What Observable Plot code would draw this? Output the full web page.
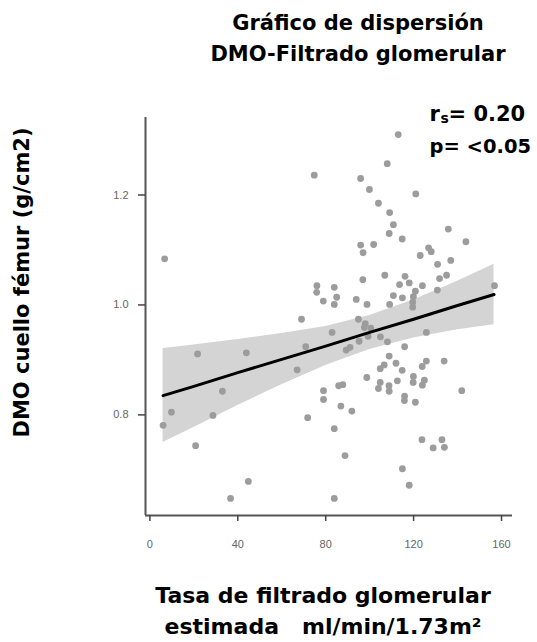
<!DOCTYPE html>
<html>
<head>
<meta charset="utf-8">
<script src="https://cdn.jsdelivr.net/npm/d3@7"></script>
<script src="https://cdn.jsdelivr.net/npm/@observablehq/plot@0.6"></script>
<style>
  html, body { margin: 0; padding: 0; background: #fff; }
  #chart svg { display: block; }
</style>
</head>
<body>
<div id="chart"></div>
<script>
// Text
const titleLines = ["Gráfico de dispersión", "DMO-Filtrado glomerular"];
const xLabelLines = ["Tasa de filtrado glomerular", "estimada\u00a0\u00a0 ml/min/1.73m²"];
const yLabel = "DMO cuello fémur (g/cm2)";
const rsValue = "0.20";
const pValue = "<0.05";

// Axes
const xTicks = [0, 40, 80, 120, 160];
const yTicks = [0.8, 1.0, 1.2];
const xDomain = [-2, 165];
const yDomain = [0.617, 1.341];

// Estimated glomerular filtration rate (ml/min/1.73m²)
const egfr = [
  74.8, 6.7, 76.0, 83.9, 75.9, 78.9, 85.0, 83.9, 69.0, 113.0,
  108.0, 95.9, 99.9, 121.0, 104.0, 109.1, 110.8, 135.8, 108.9, 114.8,
  143.8, 95.9, 101.8, 97.0, 126.8, 128.0, 123.0, 136.9, 130.9, 96.9,
  106.9, 116.1, 113.6, 118.0, 124.0, 135.0, 131.8, 130.8, 120.8, 110.8,
  114.9, 119.9, 119.6, 119.6, 93.9, 98.8, 109.1, 94.9, 156.8, 82.9,
  98.0, 100.5, 99.3, 104.9, 108.1, 70.9, 89.3, 91.1, 95.2, 108.9,
  112.0, 106.6, 104.8, 67.0, 125.8, 115.9, 125.8, 123.9, 133.9, 114.8,
  98.7, 104.8, 108.8, 108.9, 104.0, 112.6, 119.9, 119.8, 124.9, 124.0,
  85.9, 87.8, 115.9, 115.8, 120.8, 141.9, 86.9, 91.9, 83.9, 123.8,
  128.9, 132.9, 134.0, 88.8, 114.9, 118.0, 83.9, 79.0, 79.0, 71.8,
  21.7, 43.9, 33.0, 9.8, 28.7, 6.0, 20.8, 44.8, 36.7, 97.6
];

// Femoral neck bone mineral density (g/cm2)
const dmo = [
  1.236, 1.084, 1.035, 1.032, 1.023, 1.007, 1.014, 1.001, 0.974, 1.310,
  1.257, 1.230, 1.210, 1.202, 1.185, 1.168, 1.146, 1.138, 1.130, 1.120,
  1.115, 1.109, 1.110, 1.095, 1.104, 1.097, 1.090, 1.081, 1.074, 1.046,
  1.054, 1.052, 1.037, 1.040, 1.035, 1.054, 1.048, 1.027, 1.025, 1.017,
  1.013, 1.015, 1.005, 0.996, 1.010, 1.001, 1.001, 0.974, 1.035, 0.950,
  0.966, 0.958, 0.943, 0.942, 0.933, 0.924, 0.918, 0.923, 0.934, 0.907,
  0.894, 0.891, 0.884, 0.882, 0.950, 0.924, 0.898, 0.888, 0.898, 0.881,
  0.868, 0.859, 0.853, 0.843, 0.848, 0.862, 0.870, 0.859, 0.863, 0.854,
  0.853, 0.855, 0.834, 0.826, 0.823, 0.844, 0.816, 0.807, 0.775, 0.755,
  0.740, 0.755, 0.741, 0.726, 0.702, 0.672, 0.648, 0.844, 0.828, 0.795,
  0.911, 0.913, 0.843, 0.805, 0.799, 0.781, 0.744, 0.679, 0.648, 0.959
];

// Fitted regression line with its 95% confidence band
const fitX   = [6, 20, 40, 60, 80, 100, 120, 140, 156.6];
const fitY   = [0.835, 0.852, 0.877, 0.901, 0.925, 0.950, 0.974, 0.999, 1.019];
const ciLow  = [0.750, 0.777, 0.817, 0.855, 0.890, 0.919, 0.940, 0.955, 0.964];
const ciHigh = [0.921, 0.927, 0.937, 0.948, 0.961, 0.981, 1.009, 1.043, 1.074];

const points = egfr.map((x, i) => ({x, y: dmo[i]}));
const fit = fitX.map((x, i) => ({x, y: fitY[i], lo: ciLow[i], hi: ciHigh[i]}));

const heading = {fontFamily: "'DejaVu Sans', sans-serif", fontWeight: "bold", fill: "#000"};

const chart = Plot.plot({
  width: 537,
  height: 642,
  marginTop: 117,
  marginBottom: 127,
  marginLeft: 145,
  marginRight: 25,
  style: {fontFamily: "'Liberation Sans', Arial, Helvetica, sans-serif", background: "#fff"},
  x: {domain: xDomain},
  y: {domain: yDomain},
  marks: [
    Plot.areaY(fit, {x: "x", y1: "lo", y2: "hi", fill: "#d4d4d4"}),
    Plot.dot(points, {x: "x", y: "y", r: 3.4, fill: "#9c9c9c", stroke: "none"}),
    Plot.line(fit, {x: "x", y: "y", stroke: "#000", strokeWidth: 3}),
    Plot.ruleX([xDomain[0]], {stroke: "#555", strokeWidth: 2}),
    Plot.ruleY([yDomain[0]], {stroke: "#555", strokeWidth: 2}),
    Plot.axisY(yTicks, {
      tickSize: 7, tickPadding: 10, fontSize: 11,
      stroke: "#444", strokeWidth: 1.5, fill: "#666",
      tickFormat: d3.format(".1f"), label: null
    }),
    Plot.axisX(xTicks, {
      tickSize: 6, tickPadding: 19, fontSize: 11,
      stroke: "#444", strokeWidth: 1.5, fill: "#666",
      label: null
    }),
    // Title
    Plot.text([titleLines.join("\n")], {
      frameAnchor: "top", lineAnchor: "top", textAnchor: "middle", dx: 29, dy: -109,
      fontSize: 21, lineHeight: 1.45, ...heading
    }),
    // Axis titles
    Plot.text([xLabelLines.join("\n")], {
      frameAnchor: "bottom", lineAnchor: "top", textAnchor: "middle", dx: -6, dy: 65,
      fontSize: 22, lineHeight: 1.41, ...heading
    }),
    Plot.text([yLabel], {
      frameAnchor: "left", textAnchor: "middle", rotate: -90, dx: -123, dy: -34,
      fontSize: 21, ...heading
    }),
    // Correlation annotation
    Plot.text(["r"], {frameAnchor: "top-left", textAnchor: "start", dx: 284, dy: -11, fontSize: 21, ...heading}),
    Plot.text(["s"], {frameAnchor: "top-left", textAnchor: "start", dx: 295, dy: -4, fontSize: 14, ...heading}),
    Plot.text([`= ${rsValue}`], {frameAnchor: "top-left", textAnchor: "start", dx: 303, dy: -11, fontSize: 21, ...heading}),
    Plot.text([`p= ${pValue}`], {frameAnchor: "top-left", textAnchor: "start", dx: 284, dy: 22, fontSize: 19.5, ...heading})
  ]
});

document.getElementById("chart").appendChild(chart);
</script>
</body>
</html>
